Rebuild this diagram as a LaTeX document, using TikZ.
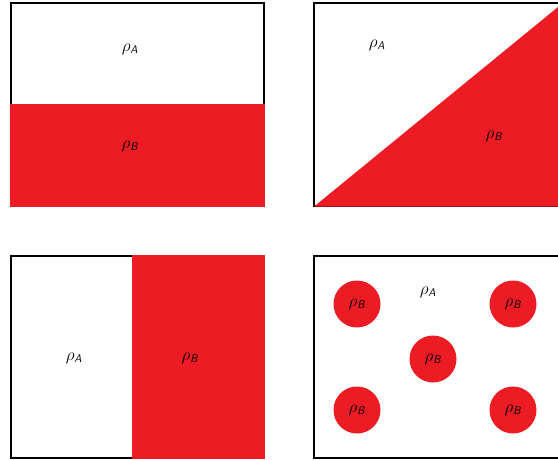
\documentclass[tikz,border=0pt]{standalone}
\usepackage{amsmath}
\usetikzlibrary{positioning}
\definecolor{phaseRed}{HTML}{ED1C24}
\newcommand{\rhoof}[1]{$\rho_{\textsf{\slshape #1}}$}

\begin{document}
\begin{tikzpicture}[
x=1pt, y=-1pt,
frame/.style={draw=black, line width=1.1pt},
phase/.style={fill=phaseRed, draw=none},
label/.style={font=\fontsize{16}{18}\selectfont, inner sep=0pt},
drop/.style={circle, fill=phaseRed, minimum size=47pt, inner sep=0pt, font=\fontsize{16}{18}\selectfont}
]
\useasboundingbox (0,0) rectangle (558,459);

% layered
\draw[frame] (11,3) rectangle (264,206);
\fill[phase] (10.4,104) rectangle (264.6,206.6);
\node[label] (tlA) at (130,49) {\rhoof{A}};
\node[label] (tlB) at (130,146) {\rhoof{B}};

% wedge
\draw[frame] (314,3) rectangle (560,206);
\fill[phase] (314,206.6) -- (560,5.4) -- (560,206.6) -- cycle;
\node[label] (trA) at (377,45) {\rhoof{A}};
\node[label] (trB) at (494,136) {\rhoof{B}};

% side by side
\draw[frame] (11,256) rectangle (264,458);
\fill[phase] (132,255.4) rectangle (264.6,458.6);
\node[label] (blA) at (74,358) {\rhoof{A}};
\node[label] (blB) at (190,358) {\rhoof{B}};

% dispersed
\draw[frame] (314,256) rectangle (560,458);
\node[label] (brA) at (428,292) {\rhoof{A}};
\node[drop] (d1) at (357,304) {\rhoof{B}};
\node[drop] (d2) at (513,304) {\rhoof{B}};
\node[drop] (d3) at (433,359) {\rhoof{B}};
\node[drop] (d4) at (357,410) {\rhoof{B}};
\node[drop] (d5) at (513,410) {\rhoof{B}};

\end{tikzpicture}
\end{document}
